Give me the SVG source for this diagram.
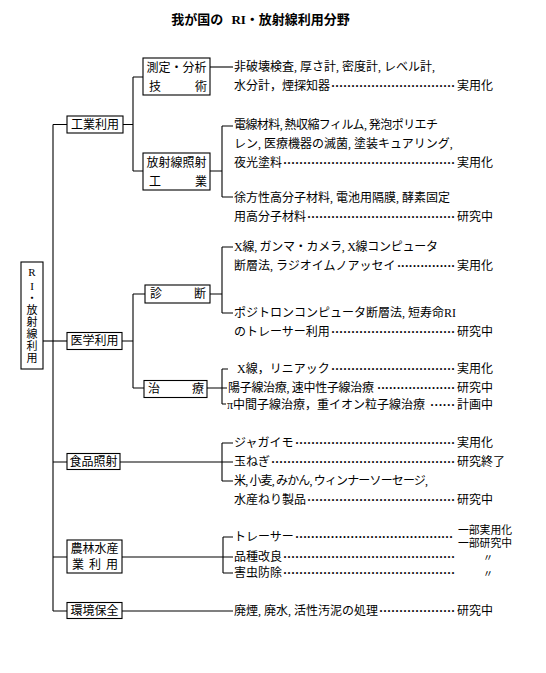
<svg xmlns="http://www.w3.org/2000/svg" width="546" height="673" viewBox="0 0 546 673">
<style>
text{font-family:'Liberation Serif','Noto Sans CJK JP',serif;font-size:12px;fill:#000}
.title{font-size:13px;font-weight:bold}
.vt{font-size:11px}
.st{font-family:'Noto Sans CJK JP',sans-serif}
.st2{font-family:'Noto Sans CJK JP',sans-serif;font-size:10.8px}
.ditto{font-family:'Noto Sans CJK JP',sans-serif;font-size:10px}
.dot{font-family:'Liberation Serif',serif;font-weight:bold}
.box{fill:#fff;stroke:#000;stroke-width:1.1}
.ln{fill:none;stroke:#000;stroke-width:1.1}
</style>
<rect width="546" height="673" fill="#fff"/>
<text class="title" x="260.5" y="24" text-anchor="middle">我が国の <tspan dx="5">RI・放射線利用分野</tspan></text>

<g id="connectors" class="ln">
<path d="M53,124.5V611"/>
<path d="M43,341H67"/>
<path d="M53,124.5H67M53,462H67M53,557H67M53,611H67"/>
<path d="M123,124.5H133M133,77V171M133,77H143M133,171H143"/>
<path d="M210,67H233"/>
<path d="M210,171H222M222,126V197M222,126H233M222,197H233"/>
<path d="M122,341H133M133,294V388M133,294H145M133,388H144"/>
<path d="M210,294H222M222,247V313M222,247H233M222,313H233"/>
<path d="M207,388H227M222,369V404M222,369H228M222,404H226"/>
<path d="M120,462H233M222,443V481M222,443H233M222,481H233"/>
<path d="M122,557H233M223,537V573M223,537H233M223,573H233"/>
<path d="M122,611H233"/>
</g>

<g id="root">
<rect class="box" x="21" y="262" width="22" height="107"/>
<g text-anchor="middle">
<text class="vt" x="32" y="276">R</text>
<text class="vt" x="32" y="290">I</text>
<text class="vt" x="32" y="302">・</text>
<text class="vt" x="32" y="314.3">放</text>
<text class="vt" x="32" y="326.3">射</text>
<text class="vt" x="32" y="338.3">線</text>
<text class="vt" x="32" y="350.3">利</text>
<text class="vt" x="32" y="362.3">用</text>
</g>
</g>

<g id="industry">
<rect class="box" x="67" y="116" width="56" height="17"/>
<text x="95" y="128.8" text-anchor="middle">工業利用</text>
</g>
<g id="measurement">
<rect class="box" x="143" y="58" width="67" height="37"/>
<text x="176.5" y="72.3" text-anchor="middle">測定・分析</text>
<text x="149" y="90.8">技</text>
<text x="207" y="90.8" text-anchor="end">術</text>
</g>
<g id="irradiation">
<rect class="box" x="143" y="153" width="67" height="37"/>
<text x="176.5" y="167.3" text-anchor="middle">放射線照射</text>
<text x="149" y="186.3">工</text>
<text x="207" y="186.3" text-anchor="end">業</text>
</g>
<g id="medical">
<rect class="box" x="67" y="332.5" width="55" height="17"/>
<text x="94.5" y="345.3" text-anchor="middle">医学利用</text>
</g>
<g id="diagnosis">
<rect class="box" x="145" y="285" width="65" height="18"/>
<text x="150" y="298.3">診</text>
<text x="206" y="298.3" text-anchor="end">断</text>
</g>
<g id="therapy">
<rect class="box" x="144" y="380.5" width="63" height="17"/>
<text x="148" y="393.3">治</text>
<text x="204" y="393.3" text-anchor="end">療</text>
</g>
<g id="food">
<rect class="box" x="67" y="453.5" width="53" height="16"/>
<text x="93.5" y="465.8" text-anchor="middle">食品照射</text>
</g>
<g id="agriculture">
<rect class="box" x="67" y="540" width="55" height="33"/>
<text x="94.5" y="552.8" text-anchor="middle">農林水産</text>
<text x="78" y="569" text-anchor="middle">業</text>
<text x="95" y="569" text-anchor="middle">利</text>
<text x="112" y="569" text-anchor="middle">用</text>
</g>
<g id="environment">
<rect class="box" x="67" y="602.5" width="55" height="16"/>
<text x="94.5" y="614.8" text-anchor="middle">環境保全</text>
</g>

<g id="items">
<text x="234" y="71.3">非破壊検査, 厚さ計, 密度計, レベル計,</text>
<text x="234" y="90.3">水分計，煙探知器</text>
<text class="dot" x="331" y="90.3" textLength="124" lengthAdjust="spacing">·······························</text>
<text class="st" x="457" y="90.3">実用化</text>

<text x="234" y="129.3" textLength="204" lengthAdjust="spacing">電線材料, 熱収縮フィルム, 発泡ポリエチ</text>
<text x="234" y="148.3">レン, 医療機器の滅菌, 塗装キュアリング,</text>
<text x="234" y="167.3">夜光塗料</text>
<text class="dot" x="283" y="167.3" textLength="172" lengthAdjust="spacing">···········································</text>
<text class="st" x="457" y="167.3">実用化</text>
<text x="234" y="202.3">徐方性高分子材料, 電池用隔膜, 酵素固定</text>
<text x="234" y="221.3">用高分子材料</text>
<text class="dot" x="307" y="221.3" textLength="148" lengthAdjust="spacing">·····································</text>
<text class="st" x="457" y="221.3">研究中</text>

<text x="234" y="251.3" textLength="204" lengthAdjust="spacing">X線, ガンマ・カメラ, X線コンピュータ</text>
<text x="234" y="270.3">断層法, ラジオイムノアッセイ</text>
<text class="dot" x="397" y="270.3" textLength="58" lengthAdjust="spacing">···············</text>
<text class="st" x="457" y="270.3">実用化</text>
<text x="234" y="317.3">ポジトロンコンピュータ断層法, 短寿命RI</text>
<text x="234" y="336.3">のトレーサー利用</text>
<text class="dot" x="331" y="336.3" textLength="124" lengthAdjust="spacing">·······························</text>
<text class="st" x="457" y="336.3">研究中</text>

<text x="237" y="373.3">X線，リニアック</text>
<text class="dot" x="331" y="373.3" textLength="124" lengthAdjust="spacing">·······························</text>
<text class="st" x="457" y="373.3">実用化</text>
<text x="228" y="392.3" textLength="146" lengthAdjust="spacing">陽子線治療, 速中性子線治療</text>
<text class="dot" x="377" y="392.3" textLength="78" lengthAdjust="spacing">····················</text>
<text class="st" x="457" y="392.3">研究中</text>
<text x="227" y="409.3">π中間子線治療，重イオン粒子線治療</text>
<text class="dot" x="430" y="409.3" textLength="25" lengthAdjust="spacing">······</text>
<text class="st" x="457" y="409.3">計画中</text>

<text x="234" y="447.3">ジャガイモ</text>
<text class="dot" x="295" y="447.3" textLength="160" lengthAdjust="spacing">········································</text>
<text class="st" x="457" y="447.3">実用化</text>
<text x="234" y="466.3">玉ねぎ</text>
<text class="dot" x="271" y="466.3" textLength="184" lengthAdjust="spacing">··············································</text>
<text class="st" x="457" y="466.3">研究終了</text>
<text x="234" y="485.3" textLength="194" lengthAdjust="spacing">米, 小麦, みかん, ウィンナーソーセージ,</text>
<text x="234" y="504.3">水産ねり製品</text>
<text class="dot" x="307" y="504.3" textLength="148" lengthAdjust="spacing">·····································</text>
<text class="st" x="457" y="504.3">研究中</text>

<text x="234" y="541.3">トレーサー</text>
<text class="dot" x="295" y="541.3" textLength="158" lengthAdjust="spacing">········································</text>
<text class="st2" x="458" y="533.5">一部実用化</text>
<text class="st2" x="458" y="547">一部研究中</text>
<text x="234" y="560.8">品種改良</text>
<text class="dot" x="283" y="560.8" textLength="172" lengthAdjust="spacing">···········································</text>
<text class="ditto" x="488" y="560.8" text-anchor="middle">〃</text>
<text x="234" y="577.3">害虫防除</text>
<text class="dot" x="283" y="577.3" textLength="172" lengthAdjust="spacing">···········································</text>
<text class="ditto" x="488" y="577.3" text-anchor="middle">〃</text>

<text x="234" y="615.3">廃煙, 廃水, 活性汚泥の処理</text>
<text class="dot" x="379" y="615.3" textLength="76" lengthAdjust="spacing">···················</text>
<text class="st" x="457" y="615.3">研究中</text>
</g>
</svg>
